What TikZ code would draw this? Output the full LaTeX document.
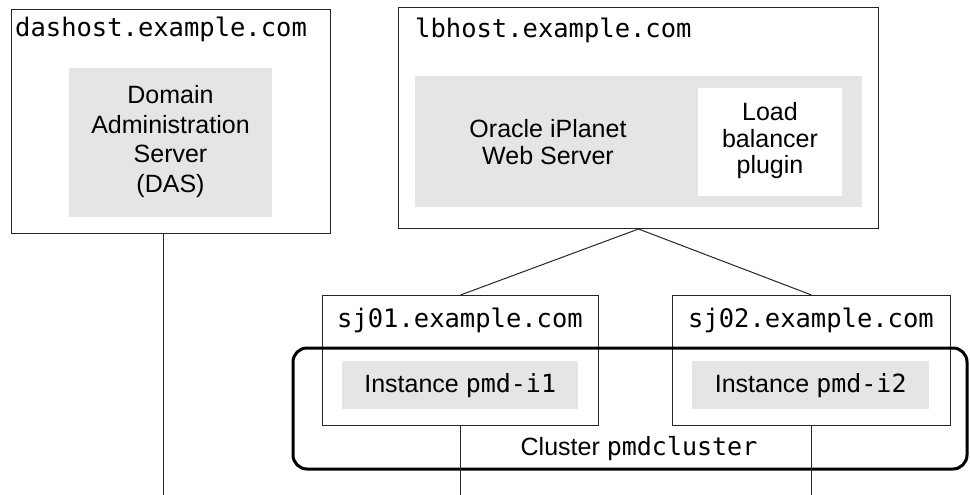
\documentclass[tikz,border=0pt]{standalone}
\usepackage{fontspec}
\setmainfont{Liberation Sans}
\newfontfamily\monof{DejaVu Sans Mono}
\begin{document}
\begin{tikzpicture}[x=1pt,y=-1pt,
  hostbox/.style={draw=black!85, line width=1pt, fill=white, inner sep=0pt, anchor=north west},
  greybox/.style={fill=black!10, draw=none, inner sep=0pt, anchor=north west},
  whitebox/.style={fill=white, draw=none, inner sep=0pt, anchor=north west},
  hostlabel/.style={inner sep=0pt, font=\monof\fontsize{25.5}{29}\selectfont},
  txt/.style={inner sep=0pt, align=center, font=\fontsize{25}{29.5}\selectfont},
  tighttxt/.style={inner sep=0pt, align=center, font=\fontsize{25}{26.5}\selectfont},
  conn/.style={draw=black!85, line width=1pt},
  clusterbox/.style={draw=black, line width=3pt, rounded corners=14pt}
]
\useasboundingbox (0,0) rectangle (970,495);
\fill[white] (0,0) rectangle (970,495);

% hosts
\node[hostbox, minimum width=319pt, minimum height=224pt] (dashost) at (11,9) {};
\node[greybox, minimum width=203pt, minimum height=149pt] (das) at (69,68) {};
\node[hostbox, minimum width=480pt, minimum height=221pt] (lbhost) at (398,7) {};
\node[greybox, minimum width=447pt, minimum height=131pt] (web) at (415,76) {};
\node[whitebox, minimum width=144pt, minimum height=108pt] (plugin) at (698,88) {};
\node[hostbox, minimum width=276pt, minimum height=130pt] (sj01) at (322,295) {};
\node[greybox, minimum width=236pt, minimum height=48pt] (inst1) at (342,361) {};
\node[hostbox, minimum width=278pt, minimum height=130pt] (sj02) at (672,295) {};
\node[greybox, minimum width=237pt, minimum height=48pt] (inst2) at (692,361) {};

% cluster
\draw[clusterbox] (293,348) rectangle (967,469);
\coordinate (clc) at (639,455);

% texts
\node[hostlabel, anchor=base west] (dashostl) at (15,37) {dashost.example.com};
\node[hostlabel, anchor=base west] (lbhostl) at (415,38) {lbhost.example.com};
\node[hostlabel, anchor=base] (sj01l) at (460,327) {sj01.example.com};
\node[hostlabel, anchor=base] (sj02l) at (811,327) {sj02.example.com};
\node[txt] (dast) at (170.5,141.5) {Domain\\Administration\\Server\\(DAS)};
\node[tighttxt] (webt) at (548,142) {Oracle iPlanet\\Web Server};
\node[tighttxt] (plugint) at (770,141) {Load\\balancer\\plugin};
\node[txt] (inst1t) at (inst1.center) {Instance {\monof pmd-i1}};
\node[txt] (inst2t) at (inst2.center) {Instance {\monof pmd-i2}};
\node[txt, anchor=base] (clt) at (clc) {Cluster {\monof pmdcluster}};

% connectors
\coordinate (dasdown) at (163,495);
\coordinate (bottom) at (0,495);
\draw[conn] (lbhost.south) -- (sj01.north);
\draw[conn] (lbhost.south) -- (sj02.north);
\draw[conn] (dasdown |- dashost.south) -- (dasdown);
\draw[conn] (sj01.south) -- (sj01.south |- bottom);
\draw[conn] (sj02.south) -- (sj02.south |- bottom);
\end{tikzpicture}
\end{document}
